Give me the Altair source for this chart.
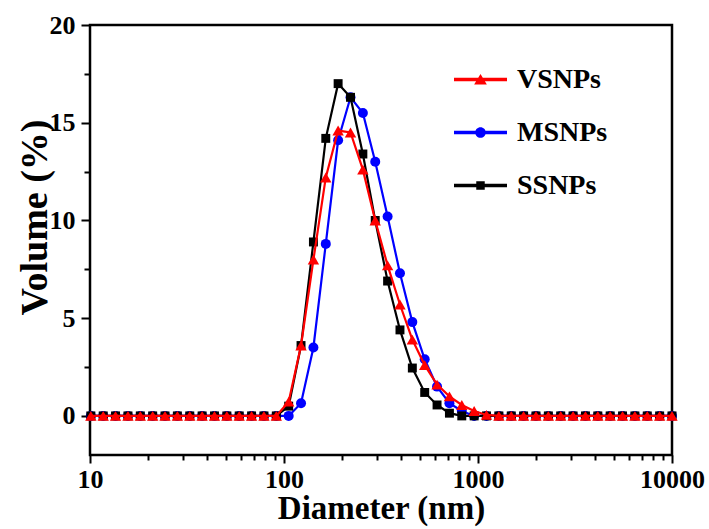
import altair as alt
import pandas as pd

# Size classes (nm), log-spaced
diameter = [10.1, 11.7, 13.54, 15.69, 18.17, 21.04, 24.36, 28.21, 32.67, 37.84, 43.82, 50.75,
            58.77, 68.06, 78.82, 91.28, 105.7, 122.4, 141.8, 164.2, 190.1, 220.2, 255.0, 295.3,
            342.0, 396.1, 458.7, 531.2, 615.1, 712.4, 825.0, 955.4, 1106, 1281, 1484, 1718,
            1990, 2305, 2669, 3091, 3580, 4145, 4801, 5560, 6439, 7456, 8635, 10000]

vsnps = [0] * 16 + [0.73, 3.6, 8.0, 12.2, 14.6, 14.5, 12.6, 10.0, 7.7, 5.7, 3.9, 2.6, 1.6, 1.0, 0.56, 0.25] + [0.05] + [0] * 15
msnps = [0] * 16 + [0, 0.65, 3.5, 8.8, 14.1, 16.3, 15.5, 13.0, 10.2, 7.3, 4.8, 2.9, 1.5, 0.65, 0.25, 0] + [0] * 16
ssnps = [0] * 16 + [0.5, 3.6, 8.9, 14.2, 17.0, 16.3, 13.4, 10.0, 6.9, 4.4, 2.45, 1.2, 0.56, 0.14, 0, 0] + [0] * 16

series_names = ["VSNPs", "MSNPs", "SSNPs"]
series_colors = ["#ff0000", "#0000ff", "#000000"]
series_shapes = ["triangle-up", "circle", "square"]
series_sizes = [130, 100, 80]

x_ticks = [10, 20, 30, 40, 50, 60, 70, 80, 90, 100, 200, 300, 400, 500, 600, 700, 800, 900,
           1000, 2000, 3000, 4000, 5000, 6000, 7000, 8000, 9000, 10000]
y_ticks = [0, 2.5, 5, 7.5, 10, 12.5, 15, 17.5, 20]

legend_paths = [
    "M-1,-0.07H1V0.07H-1Z M-0.24,0.19L0,-0.21L0.24,0.19Z",
    "M-1,-0.07H1V0.07H-1Z M0.2,0A0.2,0.2 0 1,1 -0.2,0A0.2,0.2 0 1,1 0.2,0Z",
    "M-1,-0.07H1V0.07H-1Z M-0.16,-0.16H0.16V0.16H-0.16Z",
]

df = pd.DataFrame({
    "d": diameter * 3,
    "v": vsnps + msnps + ssnps,
    "s": [series_names[0]] * len(diameter) + [series_names[1]] * len(diameter) + [series_names[2]] * len(diameter),
})

FONT = "Liberation Serif"

x_enc = alt.X(
    "d:Q",
    scale=alt.Scale(type="log", domain=[10, 10000], nice=False),
    axis=alt.Axis(
        values=x_ticks,
        format="d",
        labelExpr="indexof([10,100,1000,10000], datum.value) >= 0 ? datum.label : ''",
        labelOverlap=False,
        labelFlush=False,
        tickSize={"condition": {"test": "indexof([10,100,1000,10000], datum.value) >= 0", "value": 8}, "value": 5},
        title="Diameter (nm)",
        titleFontSize=33,
        titlePadding=0,
        labelPadding=3,
    ),
)
y_enc = alt.Y(
    "v:Q",
    scale=alt.Scale(domain=[-2, 20], nice=False, zero=False),
    axis=alt.Axis(
        values=y_ticks,
        labelExpr="datum.value % 5 == 0 ? datum.label : ''",
        labelOverlap=False,
        labelFlush=False,
        tickSize={"condition": {"test": "datum.value % 5 == 0", "value": 9}, "value": 6},
        title="Volume (%)",
        titleFontSize=38,
        titleX=-55,
        titleY=192,
        titleAlign="center",
        titleBaseline="middle",
        labelPadding=6,
    ),
)

layers = []
for idx in [1, 2, 0]:
    name = series_names[idx]
    layers.append(
        alt.Chart(df)
        .transform_filter(alt.datum.s == name)
        .mark_line(
            color=series_colors[idx],
            strokeWidth=2.2,
            point=alt.OverlayMarkDef(shape=series_shapes[idx], size=series_sizes[idx],
                                     filled=True, color=series_colors[idx], opacity=1),
        )
        .encode(x=x_enc, y=y_enc)
    )

legend_common = dict(
    title=None, orient="none", legendX=364, legendY=28, symbolSize=2809,
    symbolStrokeWidth=0, labelFont=FONT, labelFontSize=28, labelFontWeight="bold",
    labelOffset=10, padding=0, rowPadding=12, labelColor="#000000", symbolOpacity=1,
)
legend_layer = (
    alt.Chart(df)
    .transform_filter("false")
    .mark_point(filled=True)
    .encode(
        x=x_enc,
        y=y_enc,
        color=alt.Color("s:N", scale=alt.Scale(domain=series_names, range=series_colors),
                        legend=alt.Legend(**legend_common)),
        shape=alt.Shape("s:N", scale=alt.Scale(domain=series_names, range=legend_paths),
                        legend=alt.Legend(**legend_common)),
    )
)
layers.append(legend_layer)

chart = (
    alt.layer(*layers)
    .properties(
        width=582, height=430,
        autosize=alt.AutoSizeParams(type="none"),
        padding={"left": 90, "top": 25, "right": 37, "bottom": 74},
        background="white",
    )
    .configure_view(stroke="#000000", strokeWidth=2.5)
    .configure_axis(
        grid=False, domain=False, tickColor="#000000", tickWidth=2,
        labelFont=FONT, labelFontSize=26, labelFontWeight="bold", labelColor="#000000",
        titleFont=FONT, titleFontWeight="bold", titleColor="#000000",
    )
)

chart.save("out.html", embed_options={"renderer": "svg", "actions": False})
